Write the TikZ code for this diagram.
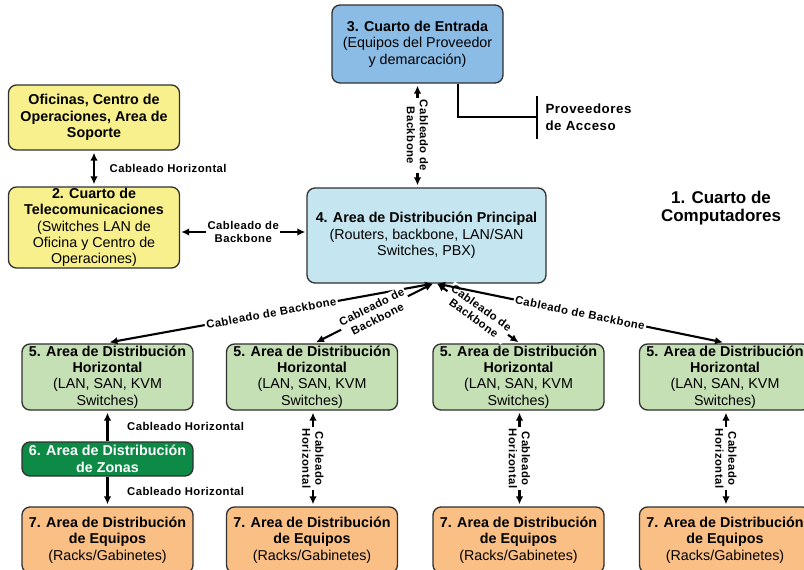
\documentclass[tikz,border=0pt]{standalone}
\usepackage{fontspec}
\setmainfont{Liberation Sans}
\newfontfamily\spacedsans[LetterSpace=4]{Liberation Sans}
\usetikzlibrary{arrows.meta,calc}

\definecolor{cEntrada}{HTML}{8BBCE6}
\definecolor{cYellow}{HTML}{F8F08C}
\definecolor{cMain}{HTML}{C5E6F0}
\definecolor{cHoriz}{HTML}{C6E0B5}
\definecolor{cZone}{HTML}{0C8A46}
\definecolor{cEquip}{HTML}{FABF85}
\definecolor{cEdge}{HTML}{303030}

\newcommand\boxtxt{\fontsize{14.3}{16.4}\selectfont}
\newcommand\lbltxt{\spacedsans\fontsize{11.3}{13}\selectfont\bfseries}
\newcommand\headtxt{\fontsize{17}{18}\selectfont\bfseries}
\newcommand\provtxt{\spacedsans\fontsize{13.3}{17}\selectfont\bfseries}

\tikzset{
  box/.style={draw=cEdge, line width=1.3pt, rounded corners=8pt, align=center,
    inner sep=0pt, minimum width=171pt, font=\boxtxt},
  wire/.style={line width=2.1pt, draw=black, >={Latex[length=8pt,width=7.5pt]}},
  lbl/.style={font=\lbltxt, align=center, inner sep=1.5pt},
  tag/.style={lbl, fill=white}
}

\begin{document}
\begin{tikzpicture}[x=1pt,y=-1pt]
\clip (0,0) rectangle (804,570);
\fill[white] (0,0) rectangle (804,570);

% rooms
\node[box, fill=cEntrada, minimum height=78pt] (b3) at (417.5,44)
  {\textbf{3. Cuarto de Entrada}\\(Equipos del Proveedor\\y demarcación)};
\node[box, fill=cYellow, minimum height=65pt] (off) at (94,117.5)
  {\textbf{Oficinas, Centro de}\\\textbf{Operaciones, Area de}\\\textbf{Soporte}};
\node[box, fill=cYellow, minimum height=81pt] (b2) at (94,227.5)
  {\textbf{2. Cuarto de}\\\textbf{Telecomunicaciones}\\(Switches LAN de\\Oficina y Centro de\\Operaciones)};
\node[box, fill=cMain, minimum width=239pt, minimum height=95pt] (b4) at (426.5,235.5)
  {\textbf{4. Area de Distribución Principal}\\(Routers, backbone, LAN/SAN\\Switches, PBX)};

\node[font=\headtxt, align=center] (cc) at (721,208) {1. Cuarto de\\Computadores};
\node[font=\provtxt, align=left, anchor=west] (prov) at (542,117) {Proveedores\\de Acceso};

% horizontal distribution areas
\foreach \i/\x in {1/107.5, 2/312, 3/518.5, 4/725}{
  \node[box, fill=cHoriz, minimum height=66pt] (h\i) at (\x,377)
    {\textbf{5. Area de Distribución}\\\textbf{Horizontal}\\(LAN, SAN, KVM\\Switches)};
  \node[box, fill=cEquip, minimum height=66pt] (e\i) at (\x,540)
    {\textbf{7. Area de Distribución}\\\textbf{de Equipos}\\(Racks/Gabinetes)};
}
\node[box, fill=cZone, text=white, minimum height=34pt] (z6) at (107.5,459)
  {\textbf{6. Area de Distribución}\\\textbf{de Zonas}};

% access providers
\draw[line width=2pt] ($(b3.south)+(40.5,0)$) |- ($(prov.west)+(-5,0)$);
\draw[line width=2pt] ($(prov.west)+(-5,-21)$) -- ($(prov.west)+(-5,22)$);

% backbone cabling
\draw[wire,<->] ($(b3.south)+(0,2)$) -- ($(b3.south |- b4.north)+(0,-2)$)
  node[midway, tag, rotate=-90] {Cableado de\\Backbone};
\draw[wire,<->] ($(b2.east)+(1,4.5)$) -- ($(b2.east -| b4.west)+(-1,4.5)$)
  node[midway, tag] {Cableado de\\Backbone};

\coordinate (b4l) at ($(b4.south)+(6.5,0)$);
\coordinate (b4r) at ($(b4.south)+(10.5,0)$);
\draw[wire,<->] (b4l) -- ($(h1.north)+(2,-1)$)
  node[midway, tag, sloped] {Cableado de Backbone};
\draw[wire,<->] (b4l) -- ($(h2.north)+(4,-1)$)
  node[midway, tag, sloped] {Cableado de\\Backbone};
\draw[wire,<->] (b4r) -- ($(h3.north)+(0,-1)$)
  node[midway, tag, sloped] {Cableado de\\Backbone};
\draw[wire,<->] (b4r) -- ($(h4.north)+(-2,-1)$)
  node[midway, tag, sloped] {Cableado de Backbone};

% horizontal cabling
\draw[wire,<->] ($(off.south)+(0,2)$) -- ($(b2.north)+(0,-2)$);
\node[lbl, anchor=west] (lh0) at ($(off.south)!0.5!(b2.north)+(14,0)$) {Cableado Horizontal};

\draw[wire,<-] ($(h1.south)+(0,2)$) -- (z6.north);
\draw[wire,->] (z6.south) -- ($(e1.north)+(0,-2)$);
\node[lbl, anchor=west] (lh1) at ($(h1.south)!0.5!(z6.north)+(18,0)$) {Cableado Horizontal};
\node[lbl, anchor=west] (lh2) at ($(z6.south)!0.5!(e1.north)+(18,0)$) {Cableado Horizontal};

\foreach \i in {2,3,4}{
  \draw[wire,<->] ($(h\i.south)+(1,2)$) -- ($(e\i.north)+(1,-2)$)
    node[midway, tag, rotate=-90] {Cableado\\Horizontal};
}
\end{tikzpicture}
\end{document}
